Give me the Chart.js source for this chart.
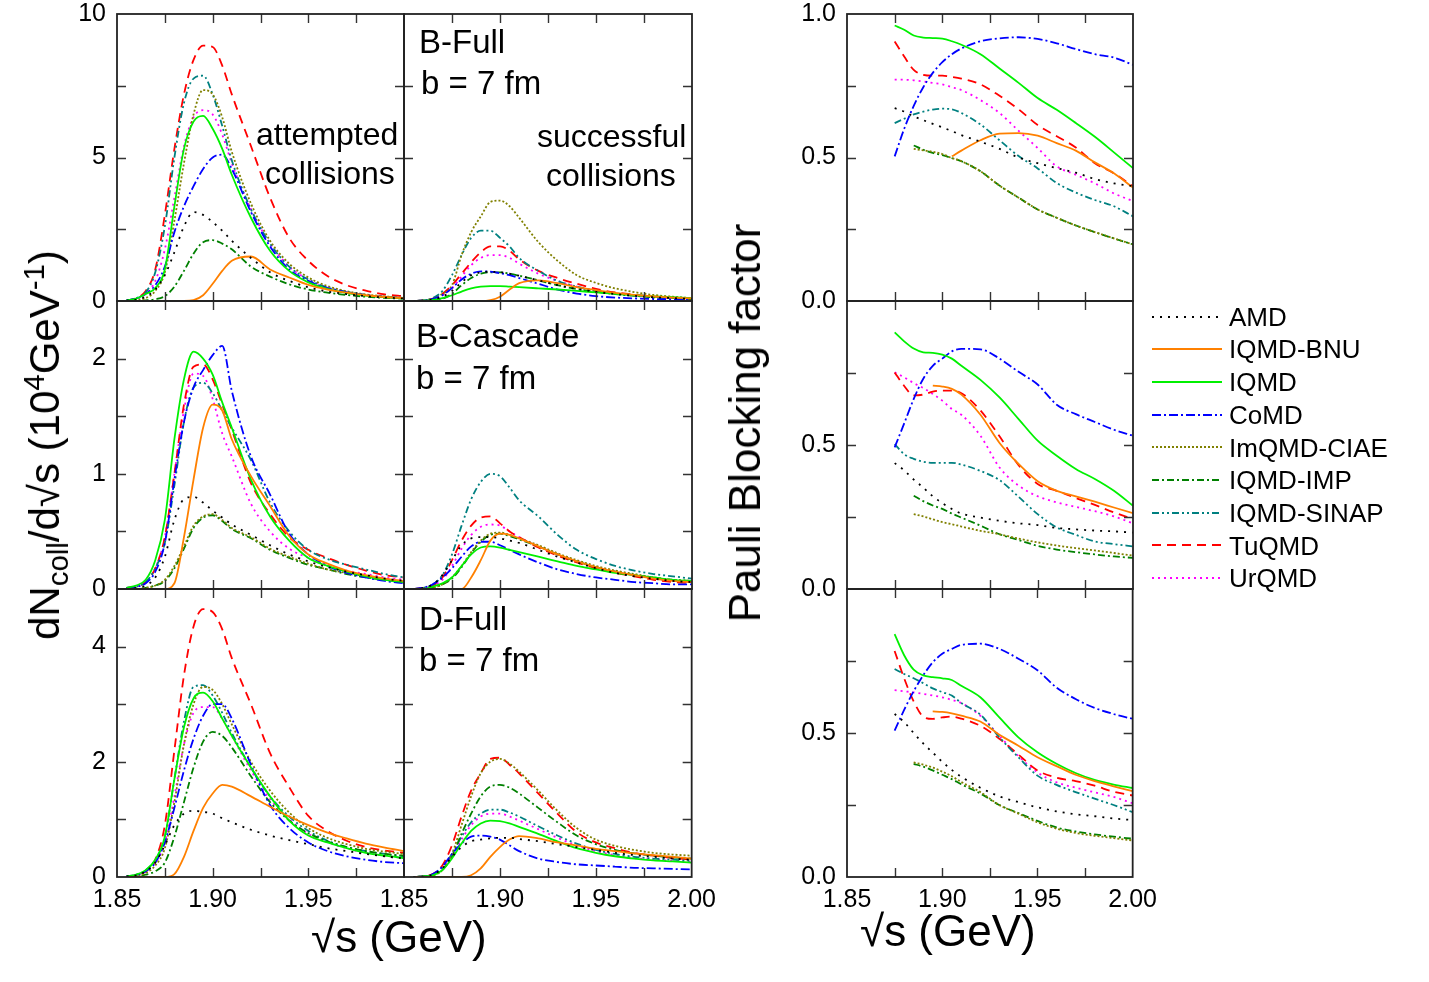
<!DOCTYPE html>
<html>
<head>
<meta charset="utf-8">
<script src="https://cdn.jsdelivr.net/npm/chart.js@4.4.1/dist/chart.umd.min.js"></script>
<style>
  body { margin: 0; background: #fff; font-family: "Liberation Sans", Arial, sans-serif; }
  #page { position: relative; width: 1429px; height: 982px; overflow: hidden; background: #fff; }
  .box { position: absolute; line-height: 0; }
  .box canvas { display: block; }
  .txt { position: absolute; white-space: nowrap; color: #000; line-height: 1; }
  .txt sub, .txt sup { font-size: 70%; line-height: 0; }
  .rot { transform: translate(-50%, -50%) rotate(-90deg); }
</style>
</head>
<body>
<div id="page"></div>
<script>
// models, in legend order
const models = ['AMD', 'IQMD-BNU', 'IQMD', 'CoMD', 'ImQMD-CIAE', 'IQMD-IMP', 'IQMD-SINAP', 'TuQMD', 'UrQMD'];

// sqrt(s) grid for the dN/dsqrt(s) panels (GeV)
const sqrtS = [1.855, 1.86, 1.865, 1.87, 1.875, 1.88, 1.885, 1.89, 1.895, 1.90, 1.905, 1.91, 1.92, 1.93, 1.94, 1.95, 1.96, 1.97, 1.98, 1.99, 2.00];
// sqrt(s) grid for the Pauli blocking panels (GeV)
const sqrtSPauli = [1.875, 1.88, 1.885, 1.89, 1.895, 1.90, 1.905, 1.91, 1.92, 1.93, 1.94, 1.95, 1.96, 1.97, 1.98, 1.99, 2.00];

// B-Full, attempted collisions (10^4 GeV^-1), rows follow `models`
const bFullAttempted = [
  [0.01, 0.05, 0.15, 0.4, 0.9, 1.7, 2.6, 3.1, 3.0, 2.75, 2.45, 2.1, 1.5, 1.0, 0.7, 0.48, 0.33, 0.24, 0.17, 0.12, 0.09],
  [0, 0, 0, 0, 0, 0, 0, 0.03, 0.2, 0.6, 1.05, 1.4, 1.55, 1.1, 0.82, 0.56, 0.4, 0.29, 0.2, 0.14, 0.1],
  [0.02, 0.08, 0.25, 0.45, 1.1, 3.3, 5.3, 6.25, 6.45, 6.0, 5.3, 4.4, 2.9, 1.75, 1.05, 0.65, 0.42, 0.28, 0.19, 0.13, 0.09],
  [0.02, 0.08, 0.25, 0.55, 1.2, 2.4, 3.3, 4.0, 4.6, 5.0, 5.1, 4.6, 3.1, 1.9, 1.1, 0.7, 0.45, 0.3, 0.2, 0.14, 0.1],
  [0, 0.03, 0.1, 0.35, 1.0, 2.8, 4.8, 6.5, 7.35, 7.2, 6.4, 5.2, 3.4, 2.1, 1.3, 0.82, 0.52, 0.34, 0.23, 0.16, 0.11],
  [0, 0, 0.02, 0.06, 0.17, 0.5, 1.05, 1.65, 2.05, 2.12, 2.0, 1.8, 1.2, 0.85, 0.58, 0.4, 0.29, 0.21, 0.15, 0.11, 0.08],
  [0.02, 0.1, 0.3, 1.0, 2.6, 5.0, 6.9, 7.75, 7.85, 7.2, 6.1, 4.9, 3.2, 2.0, 1.2, 0.75, 0.47, 0.32, 0.21, 0.15, 0.11],
  [0, 0.1, 0.35, 1.1, 3.0, 5.3, 7.2, 8.4, 8.9, 8.85, 8.2, 7.2, 5.4, 3.6, 2.2, 1.4, 0.87, 0.55, 0.36, 0.23, 0.17],
  [0.02, 0.08, 0.25, 0.7, 1.8, 3.6, 5.4, 6.4, 6.65, 6.5, 5.8, 4.8, 3.2, 2.0, 1.2, 0.75, 0.47, 0.32, 0.21, 0.15, 0.1]
];

// B-Full, successful collisions
const bFullSuccessful = [
  [0, 0.02, 0.05, 0.15, 0.35, 0.65, 0.9, 1.0, 1.02, 1.0, 0.95, 0.88, 0.72, 0.55, 0.42, 0.32, 0.24, 0.18, 0.13, 0.1, 0.07],
  [0, 0, 0, 0, 0, 0, 0, 0, 0.03, 0.15, 0.4, 0.62, 0.72, 0.62, 0.48, 0.38, 0.28, 0.21, 0.16, 0.12, 0.09],
  [0, 0.01, 0.04, 0.1, 0.2, 0.33, 0.44, 0.5, 0.52, 0.52, 0.5, 0.48, 0.44, 0.4, 0.35, 0.3, 0.25, 0.2, 0.16, 0.13, 0.1],
  [0, 0.02, 0.07, 0.2, 0.45, 0.75, 0.95, 1.03, 1.02, 0.97, 0.9, 0.8, 0.6, 0.4, 0.26, 0.17, 0.12, 0.09, 0.07, 0.06, 0.05],
  [0, 0.02, 0.08, 0.25, 0.55, 1.6, 2.4, 2.95, 3.45, 3.5, 3.3, 2.9, 2.05, 1.4, 0.9, 0.63, 0.44, 0.31, 0.21, 0.15, 0.1],
  [0, 0, 0.02, 0.08, 0.25, 0.55, 0.8, 0.95, 1.0, 1.0, 0.95, 0.88, 0.72, 0.55, 0.42, 0.32, 0.24, 0.18, 0.13, 0.1, 0.07],
  [0, 0.02, 0.1, 0.35, 0.9, 1.6, 2.2, 2.45, 2.45, 2.2, 1.9, 1.5, 1.05, 0.7, 0.5, 0.35, 0.26, 0.2, 0.15, 0.1, 0.08],
  [0, 0.02, 0.08, 0.25, 0.55, 0.95, 1.35, 1.7, 1.9, 1.9, 1.75, 1.45, 1.05, 0.8, 0.6, 0.42, 0.3, 0.22, 0.15, 0.11, 0.08],
  [0, 0.02, 0.06, 0.2, 0.45, 0.85, 1.25, 1.5, 1.6, 1.6, 1.5, 1.3, 0.95, 0.7, 0.5, 0.36, 0.26, 0.19, 0.14, 0.1, 0.07]
];

// B-Cascade, attempted collisions
const bCascadeAttempted = [
  [0, 0.01, 0.03, 0.1, 0.28, 0.6, 0.78, 0.8, 0.75, 0.68, 0.62, 0.56, 0.47, 0.38, 0.3, 0.24, 0.19, 0.15, 0.12, 0.09, 0.07],
  [0, 0, 0, 0, 0, 0.05, 0.45, 0.95, 1.4, 1.6, 1.55, 1.3, 0.98, 0.72, 0.46, 0.3, 0.22, 0.16, 0.12, 0.09, 0.07],
  [0.01, 0.03, 0.08, 0.25, 0.6, 1.3, 1.82, 2.06, 2.0, 1.86, 1.62, 1.4, 0.95, 0.63, 0.42, 0.27, 0.2, 0.15, 0.11, 0.08, 0.06],
  [0.01, 0.02, 0.05, 0.15, 0.4, 0.95, 1.45, 1.75, 1.9, 2.03, 2.11, 1.72, 1.15, 0.82, 0.48, 0.3, 0.2, 0.14, 0.1, 0.07, 0.05],
  [0, 0, 0.01, 0.03, 0.08, 0.2, 0.37, 0.55, 0.63, 0.65, 0.6, 0.53, 0.45, 0.35, 0.28, 0.22, 0.17, 0.14, 0.11, 0.08, 0.06],
  [0, 0, 0.01, 0.03, 0.07, 0.18, 0.35, 0.53, 0.62, 0.64, 0.59, 0.52, 0.44, 0.34, 0.27, 0.21, 0.17, 0.13, 0.1, 0.08, 0.06],
  [0.01, 0.02, 0.06, 0.18, 0.4, 0.9, 1.45, 1.75, 1.79, 1.7, 1.55, 1.4, 1.12, 0.75, 0.5, 0.34, 0.26, 0.21, 0.17, 0.13, 0.1],
  [0.01, 0.02, 0.06, 0.18, 0.45, 1.0, 1.6, 1.93, 1.95, 1.82, 1.6, 1.38, 0.92, 0.65, 0.45, 0.34, 0.27, 0.21, 0.16, 0.12, 0.1],
  [0.01, 0.02, 0.06, 0.18, 0.45, 1.0, 1.55, 1.87, 1.85, 1.65, 1.35, 1.15, 0.74, 0.5, 0.35, 0.27, 0.21, 0.16, 0.13, 0.1, 0.08]
];

// B-Cascade, successful collisions
const bCascadeSuccessful = [
  [0, 0.01, 0.04, 0.12, 0.25, 0.38, 0.44, 0.45, 0.45, 0.44, 0.42, 0.4, 0.34, 0.28, 0.23, 0.18, 0.14, 0.11, 0.09, 0.07, 0.06],
  [0, 0, 0, 0, 0, 0, 0.1, 0.25, 0.42, 0.48, 0.47, 0.44, 0.37, 0.3, 0.24, 0.19, 0.15, 0.12, 0.09, 0.07, 0.06],
  [0, 0, 0.02, 0.05, 0.1, 0.2, 0.3, 0.36, 0.37, 0.36, 0.34, 0.32, 0.28, 0.24, 0.2, 0.17, 0.14, 0.12, 0.1, 0.08, 0.07],
  [0, 0.01, 0.04, 0.1, 0.18, 0.28, 0.37, 0.41, 0.41, 0.38, 0.34, 0.3, 0.23, 0.17, 0.13, 0.1, 0.08, 0.06, 0.05, 0.04, 0.04],
  [0, 0, 0.01, 0.04, 0.1, 0.2, 0.32, 0.42, 0.48, 0.49, 0.47, 0.44, 0.38, 0.31, 0.25, 0.2, 0.16, 0.13, 0.1, 0.08, 0.07],
  [0, 0, 0.01, 0.04, 0.09, 0.19, 0.31, 0.41, 0.47, 0.48, 0.46, 0.43, 0.37, 0.3, 0.24, 0.19, 0.15, 0.12, 0.1, 0.08, 0.07],
  [0, 0.01, 0.04, 0.12, 0.3, 0.55, 0.78, 0.93, 1.0, 0.98, 0.88, 0.77, 0.63, 0.47, 0.34, 0.26, 0.2, 0.16, 0.13, 0.11, 0.09],
  [0, 0.01, 0.03, 0.1, 0.25, 0.42, 0.55, 0.62, 0.63, 0.57, 0.5, 0.45, 0.36, 0.29, 0.23, 0.18, 0.14, 0.11, 0.08, 0.06, 0.05],
  [0, 0.01, 0.03, 0.08, 0.2, 0.35, 0.47, 0.54, 0.56, 0.55, 0.5, 0.45, 0.37, 0.3, 0.24, 0.19, 0.15, 0.12, 0.09, 0.07, 0.06]
];

// D-Full, attempted collisions
const dFullAttempted = [
  [0.01, 0.03, 0.1, 0.25, 0.55, 0.9, 1.1, 1.15, 1.13, 1.1, 1.02, 0.95, 0.82, 0.72, 0.64, 0.57, 0.5, 0.45, 0.4, 0.36, 0.32],
  [0, 0, 0, 0, 0, 0.05, 0.35, 0.8, 1.2, 1.45, 1.6, 1.57, 1.4, 1.22, 1.05, 0.9, 0.77, 0.67, 0.58, 0.51, 0.45],
  [0.01, 0.04, 0.12, 0.3, 0.7, 1.7, 2.6, 3.1, 3.2, 3.05, 2.75, 2.45, 1.9, 1.4, 0.98, 0.72, 0.6, 0.5, 0.42, 0.37, 0.33],
  [0.01, 0.03, 0.1, 0.25, 0.6, 1.2, 1.85, 2.4, 2.8, 3.0, 3.0, 2.75, 1.95, 1.25, 0.85, 0.6, 0.45, 0.36, 0.3, 0.26, 0.24],
  [0, 0.02, 0.07, 0.2, 0.5, 1.3, 2.3, 3.0, 3.3, 3.25, 3.0, 2.65, 2.0, 1.5, 1.12, 0.85, 0.68, 0.57, 0.49, 0.44, 0.4],
  [0, 0.01, 0.04, 0.1, 0.25, 0.7, 1.3, 1.9, 2.35, 2.52, 2.45, 2.25, 1.75, 1.3, 0.98, 0.76, 0.62, 0.52, 0.45, 0.4, 0.37],
  [0.01, 0.04, 0.12, 0.3, 0.7, 1.7, 2.7, 3.3, 3.33, 3.15, 2.85, 2.5, 1.9, 1.4, 1.05, 0.8, 0.63, 0.52, 0.45, 0.4, 0.36],
  [0, 0.03, 0.1, 0.3, 0.9, 2.2, 3.5, 4.35, 4.65, 4.6, 4.3, 3.8, 3.0, 2.15, 1.56, 1.06, 0.8, 0.63, 0.52, 0.46, 0.42],
  [0.01, 0.03, 0.1, 0.25, 0.6, 1.4, 2.3, 2.85, 2.95, 2.95, 2.75, 2.45, 1.85, 1.35, 1.0, 0.75, 0.6, 0.5, 0.42, 0.37, 0.33]
];

// D-Full, successful collisions
const dFullSuccessful = [
  [0, 0.01, 0.04, 0.15, 0.35, 0.52, 0.62, 0.65, 0.67, 0.68, 0.68, 0.66, 0.62, 0.57, 0.52, 0.47, 0.42, 0.38, 0.35, 0.32, 0.3],
  [0, 0, 0, 0, 0, 0, 0.03, 0.15, 0.35, 0.52, 0.65, 0.71, 0.67, 0.6, 0.55, 0.49, 0.45, 0.41, 0.38, 0.35, 0.32],
  [0, 0.01, 0.03, 0.12, 0.32, 0.58, 0.8, 0.93, 0.98, 0.97, 0.93, 0.87, 0.75, 0.62, 0.5, 0.42, 0.36, 0.32, 0.29, 0.27, 0.25],
  [0, 0.01, 0.05, 0.18, 0.4, 0.58, 0.7, 0.72, 0.7, 0.65, 0.55, 0.45, 0.32, 0.26, 0.22, 0.2, 0.18, 0.16, 0.15, 0.14, 0.13],
  [0, 0.01, 0.03, 0.12, 0.4, 0.9, 1.4, 1.8, 2.0, 2.05, 1.97, 1.83, 1.5, 1.15, 0.85, 0.65, 0.54, 0.47, 0.42, 0.39, 0.37],
  [0, 0.01, 0.03, 0.12, 0.35, 0.75, 1.1, 1.4, 1.57, 1.6, 1.55, 1.45, 1.2, 0.95, 0.72, 0.57, 0.47, 0.41, 0.37, 0.34, 0.32],
  [0, 0.01, 0.04, 0.15, 0.4, 0.7, 0.95, 1.1, 1.17, 1.17, 1.12, 1.05, 0.88, 0.72, 0.58, 0.47, 0.4, 0.35, 0.32, 0.3, 0.28],
  [0, 0.01, 0.05, 0.2, 0.55, 1.05, 1.5, 1.8, 2.05, 2.07, 1.95, 1.8, 1.45, 1.1, 0.78, 0.6, 0.5, 0.42, 0.37, 0.33, 0.3],
  [0, 0.01, 0.04, 0.14, 0.38, 0.65, 0.9, 1.05, 1.1, 1.1, 1.05, 0.98, 0.83, 0.68, 0.55, 0.45, 0.38, 0.33, 0.3, 0.28, 0.26]
];

// Pauli blocking factor, B-Full
const bFullPauli = [
  [0.672, 0.66, 0.643, 0.63, 0.617, 0.605, 0.592, 0.578, 0.555, 0.53, 0.5, 0.48, 0.463, 0.447, 0.425, 0.41, 0.4],
  [null, null, null, null, null, null, 0.504, 0.524, 0.56, 0.583, 0.585, 0.576, 0.55, 0.524, 0.483, 0.445, 0.395],
  [0.96, 0.945, 0.925, 0.918, 0.916, 0.914, 0.905, 0.893, 0.86, 0.81, 0.76, 0.707, 0.666, 0.62, 0.572, 0.518, 0.463],
  [0.504, 0.6, 0.68, 0.745, 0.795, 0.832, 0.86, 0.88, 0.905, 0.915, 0.919, 0.913, 0.898, 0.878, 0.86, 0.848, 0.823],
  [null, null, 0.53, 0.525, 0.52, 0.512, 0.498, 0.487, 0.452, 0.402, 0.36, 0.319, 0.29, 0.263, 0.24, 0.218, 0.197],
  [null, null, 0.542, 0.527, 0.516, 0.508, 0.498, 0.487, 0.452, 0.402, 0.36, 0.319, 0.29, 0.263, 0.24, 0.218, 0.197],
  [0.62, 0.635, 0.65, 0.66, 0.667, 0.67, 0.668, 0.655, 0.615, 0.56, 0.505, 0.462, 0.411, 0.378, 0.352, 0.33, 0.295],
  [0.904, 0.852, 0.805, 0.788, 0.785, 0.785, 0.781, 0.775, 0.755, 0.715, 0.668, 0.613, 0.574, 0.535, 0.48, 0.445, 0.4],
  [0.771, 0.771, 0.769, 0.765, 0.76, 0.755, 0.745, 0.735, 0.70, 0.655, 0.593, 0.533, 0.469, 0.44, 0.41, 0.375, 0.348]
];

// Pauli blocking factor, B-Cascade
const bCascadePauli = [
  [0.437, 0.412, 0.38, 0.352, 0.322, 0.298, 0.278, 0.262, 0.248, 0.237, 0.228, 0.222, 0.212, 0.207, 0.203, 0.2, 0.196],
  [null, null, null, null, 0.706, 0.703, 0.695, 0.675, 0.605, 0.507, 0.434, 0.374, 0.341, 0.322, 0.303, 0.283, 0.263],
  [0.891, 0.86, 0.835, 0.822, 0.82, 0.814, 0.80, 0.775, 0.726, 0.665, 0.59, 0.515, 0.463, 0.417, 0.382, 0.341, 0.289],
  [0.492, 0.575, 0.66, 0.73, 0.775, 0.80, 0.825, 0.834, 0.832, 0.80, 0.754, 0.71, 0.64, 0.607, 0.58, 0.553, 0.532],
  [null, null, 0.26, 0.252, 0.242, 0.232, 0.225, 0.217, 0.202, 0.19, 0.175, 0.162, 0.151, 0.142, 0.134, 0.125, 0.116],
  [null, null, 0.324, 0.305, 0.29, 0.278, 0.262, 0.248, 0.22, 0.19, 0.17, 0.15, 0.137, 0.128, 0.12, 0.113, 0.108],
  [0.503, 0.468, 0.452, 0.442, 0.438, 0.438, 0.438, 0.432, 0.41, 0.378, 0.32, 0.26, 0.214, 0.188, 0.165, 0.156, 0.148],
  [0.752, 0.705, 0.672, 0.675, 0.685, 0.689, 0.689, 0.68, 0.62, 0.53, 0.43, 0.365, 0.341, 0.316, 0.292, 0.266, 0.243],
  [0.752, 0.735, 0.715, 0.698, 0.677, 0.654, 0.625, 0.605, 0.532, 0.422, 0.359, 0.322, 0.301, 0.285, 0.27, 0.252, 0.228]
];

// Pauli blocking factor, D-Full
const dFullPauli = [
  [0.566, 0.538, 0.5, 0.464, 0.432, 0.4, 0.372, 0.348, 0.31, 0.28, 0.26, 0.242, 0.228, 0.218, 0.211, 0.203, 0.198],
  [null, null, null, null, 0.575, 0.573, 0.568, 0.56, 0.54, 0.494, 0.456, 0.416, 0.385, 0.355, 0.333, 0.315, 0.298],
  [0.843, 0.77, 0.72, 0.7, 0.694, 0.69, 0.684, 0.664, 0.624, 0.554, 0.485, 0.433, 0.393, 0.361, 0.337, 0.321, 0.309],
  [0.508, 0.58, 0.645, 0.70, 0.745, 0.775, 0.792, 0.806, 0.81, 0.792, 0.758, 0.718, 0.658, 0.618, 0.587, 0.566, 0.549],
  [null, null, 0.398, 0.39, 0.38, 0.366, 0.35, 0.33, 0.295, 0.25, 0.22, 0.19, 0.168, 0.153, 0.143, 0.135, 0.127],
  [null, null, 0.393, 0.383, 0.37, 0.355, 0.34, 0.322, 0.29, 0.25, 0.222, 0.195, 0.172, 0.158, 0.148, 0.14, 0.133],
  [0.722, 0.705, 0.69, 0.673, 0.655, 0.642, 0.63, 0.604, 0.564, 0.485, 0.416, 0.352, 0.32, 0.295, 0.272, 0.25, 0.225],
  [0.785, 0.69, 0.61, 0.557, 0.549, 0.554, 0.557, 0.55, 0.525, 0.48, 0.425, 0.37, 0.345, 0.333, 0.317, 0.296, 0.283],
  [0.649, 0.645, 0.641, 0.636, 0.63, 0.624, 0.615, 0.604, 0.56, 0.49, 0.42, 0.363, 0.329, 0.31, 0.294, 0.278, 0.256]
];

// tick labels shown on each axis
const xLabelsLeft = [1.85, 1.90, 1.95];
const xLabelsFull = [1.85, 1.90, 1.95, 2.00];
const yLabelsBFull = [0, 5, 10];
const yLabelsBCascade = [0, 1, 2];
const yLabelsDFull = [0, 2, 4];
const yLabelsPauliTop = [0, 0.5, 1.0];
const yLabelsPauli = [0, 0.5];

// ---- styling / layout ----
const FONT = '"Liberation Sans", Arial, sans-serif';
const lineStyles = [
  { color: '#000000', dash: [2, 6] },
  { color: '#ff8000', dash: [] },
  { color: '#00f000', dash: [] },
  { color: '#0000ff', dash: [9, 3, 2, 3] },
  { color: '#808000', dash: [2, 2] },
  { color: '#008000', dash: [7, 3, 2, 3] },
  { color: '#008080', dash: [7, 3, 2, 3, 2, 3] },
  { color: '#ff0000', dash: [9, 6] },
  { color: '#ff00ff', dash: [2, 4] }
];
const colLeft = [117, 404, 847];
const colWidth = [287, 288, 286];
const rowTop = [14, 301, 589];
const rowHeight = [287, 288, 288];
const ML = 70, MR = 32, MT = 20, MB = 50, TICK = 9;

const panels = [
  { col: 0, row: 0, xs: sqrtS, rows: bFullAttempted, yMax: 10, yStep: 2.5, yLab: yLabelsBFull, xLab: [], dig: 0 },
  { col: 1, row: 0, xs: sqrtS, rows: bFullSuccessful, yMax: 10, yStep: 2.5, yLab: [], xLab: [], dig: 0 },
  { col: 0, row: 1, xs: sqrtS, rows: bCascadeAttempted, yMax: 2.5, yStep: 0.5, yLab: yLabelsBCascade, xLab: [], dig: 0 },
  { col: 1, row: 1, xs: sqrtS, rows: bCascadeSuccessful, yMax: 2.5, yStep: 0.5, yLab: [], xLab: [], dig: 0 },
  { col: 0, row: 2, xs: sqrtS, rows: dFullAttempted, yMax: 5, yStep: 1, yLab: yLabelsDFull, xLab: xLabelsLeft, dig: 0 },
  { col: 1, row: 2, xs: sqrtS, rows: dFullSuccessful, yMax: 5, yStep: 1, yLab: [], xLab: xLabelsFull, dig: 0 },
  { col: 2, row: 0, xs: sqrtSPauli, rows: bFullPauli, yMax: 1, yStep: 0.25, yLab: yLabelsPauliTop, xLab: [], dig: 1 },
  { col: 2, row: 1, xs: sqrtSPauli, rows: bCascadePauli, yMax: 1, yStep: 0.25, yLab: yLabelsPauli, xLab: [], dig: 1 },
  { col: 2, row: 2, xs: sqrtSPauli, rows: dFullPauli, yMax: 1, yStep: 0.25, yLab: yLabelsPauli, xLab: xLabelsFull, dig: 1 }
];

const page = document.getElementById('page');
const has = (list, v) => list.some(s => Math.abs(s - v) < 1e-6);

// box frame with inward ticks on all four sides
const framePlugin = {
  id: 'frame',
  afterDraw(chart) {
    const { ctx, scales: { x, y } } = chart;
    const l = x.left, r = x.right, t = y.top, b = y.bottom;
    ctx.save();
    ctx.strokeStyle = '#333';
    ctx.lineWidth = 1.4;
    ctx.beginPath();
    x.ticks.forEach(tk => {
      if (tk.value <= x.min + 1e-6 || tk.value >= x.max - 1e-6) return;
      const px = Math.round(x.getPixelForValue(tk.value)) + 0.5;
      ctx.moveTo(px, b); ctx.lineTo(px, b - TICK);
      ctx.moveTo(px, t); ctx.lineTo(px, t + TICK);
    });
    y.ticks.forEach(tk => {
      if (tk.value <= y.min + 1e-6 || tk.value >= y.max - 1e-6) return;
      const py = Math.round(y.getPixelForValue(tk.value)) + 0.5;
      ctx.moveTo(l, py); ctx.lineTo(l + TICK, py);
      ctx.moveTo(r, py); ctx.lineTo(r - TICK, py);
    });
    ctx.stroke();
    ctx.strokeStyle = '#222';
    ctx.lineWidth = 1.8;
    ctx.strokeRect(l, t, r - l, b - t);
    ctx.restore();
  }
};

panels.forEach(p => {
  const L = colLeft[p.col], T = rowTop[p.row], W = colWidth[p.col], H = rowHeight[p.row];
  const box = document.createElement('div');
  box.className = 'box';
  const cv = document.createElement('canvas');
  box.appendChild(cv);
  page.appendChild(box);
  box.style.width = (W + ML + MR + 40) + 'px';
  box.style.height = (H + MT + MB + 40) + 'px';

  const chart = new Chart(cv, {
    type: 'line',
    data: {
      datasets: models.map((name, i) => ({
        label: name,
        data: p.xs.map((x, j) => ({ x: x, y: p.rows[i][j] })),
        borderColor: lineStyles[i].color,
        borderDash: lineStyles[i].dash,
        borderWidth: 1.8,
        pointRadius: 0,
        fill: false,
        cubicInterpolationMode: 'monotone',
        spanGaps: false
      }))
    },
    options: {
      responsive: false,
      maintainAspectRatio: false,
      animation: false,
      devicePixelRatio: 1,
      layout: { autoPadding: false, padding: { left: 0, right: MR, top: MT, bottom: 0 } },
      plugins: { legend: { display: false }, tooltip: { enabled: false } },
      scales: {
        x: {
          type: 'linear', min: 1.85, max: 2.0,
          afterFit(s) { s.height = MB; },
          grid: { display: false, drawTicks: false },
          border: { display: false },
          ticks: {
            stepSize: 0.025, autoSkip: false, maxRotation: 0, padding: 8,
            color: '#000', font: { size: 25, family: FONT },
            callback: v => has(p.xLab, v) ? v.toFixed(2) : ''
          }
        },
        y: {
          min: 0, max: p.yMax,
          afterFit(s) { s.width = ML; },
          grid: { display: false, drawTicks: false },
          border: { display: false },
          ticks: {
            stepSize: p.yStep, autoSkip: false, padding: 11,
            color: '#000', font: { size: 25, family: FONT },
            callback: v => has(p.yLab, v) ? v.toFixed(p.dig) : ''
          }
        }
      }
    },
    plugins: [framePlugin]
  });

  // size the canvas so the plot area is exactly W x H, then place it
  for (let k = 0; k < 3; k++) {
    const xs = chart.scales.x, ys = chart.scales.y;
    const dw = W - (xs.right - xs.left), dh = H - (ys.bottom - ys.top);
    if (Math.abs(dw) < 0.5 && Math.abs(dh) < 0.5) break;
    chart.resize(Math.round(chart.width + dw), Math.round(chart.height + dh));
  }
  box.style.left = (L - chart.scales.x.left) + 'px';
  box.style.top = (T - chart.scales.y.top) + 'px';
});

// ---- texts ----
function addText(html, x, baseline, size) {
  const d = document.createElement('div');
  d.className = 'txt';
  d.innerHTML = html;
  d.style.fontSize = size + 'px';
  d.style.left = x + 'px';
  d.style.top = (baseline - 0.8465 * size) + 'px';
  page.appendChild(d);
  return d;
}
function addRotated(html, cx, cy, size) {
  const d = document.createElement('div');
  d.className = 'txt rot';
  d.innerHTML = html;
  d.style.fontSize = size + 'px';
  d.style.left = cx + 'px';
  d.style.top = cy + 'px';
  page.appendChild(d);
}

addText('attempted', 256, 145, 32);
addText('collisions', 265, 184, 32);
addText('successful', 537, 147, 32);
addText('collisions', 546, 186, 32);
addText('B-Full', 419, 53, 33);
addText('b = 7 fm', 421, 94, 33);
addText('B-Cascade', 416, 347, 33);
addText('b = 7 fm', 416, 389, 33);
addText('D-Full', 419, 630, 33);
addText('b = 7 fm', 419, 671, 33);

const xt1 = addText('√s (GeV)', 0, 952, 44);
xt1.style.left = (399 - xt1.offsetWidth / 2) + 'px';
const xt2 = addText('√s (GeV)', 0, 946, 44);
xt2.style.left = (948 - xt2.offsetWidth / 2) + 'px';

addRotated('dN<sub>coll</sub>/d√s (10<sup>4</sup>GeV<sup>-1</sup>)', 45, 445, 42);
addRotated('Pauli Blocking factor', 745, 423, 44);

// ---- legend ----
const svgNS = 'http://www.w3.org/2000/svg';
models.forEach((name, i) => {
  const cy = 316.5 + i * 32.7;
  const svg = document.createElementNS(svgNS, 'svg');
  svg.setAttribute('width', 80);
  svg.setAttribute('height', 10);
  svg.style.position = 'absolute';
  svg.style.left = '1150px';
  svg.style.top = (cy - 5) + 'px';
  const ln = document.createElementNS(svgNS, 'line');
  ln.setAttribute('x1', 2); ln.setAttribute('x2', 72);
  ln.setAttribute('y1', 5); ln.setAttribute('y2', 5);
  ln.setAttribute('stroke', lineStyles[i].color);
  ln.setAttribute('stroke-width', 2);
  if (lineStyles[i].dash.length) ln.setAttribute('stroke-dasharray', lineStyles[i].dash.join(' '));
  svg.appendChild(ln);
  page.appendChild(svg);
  addText(name, 1229, cy + 0.358 * 26, 26);
});
</script>
</body>
</html>
